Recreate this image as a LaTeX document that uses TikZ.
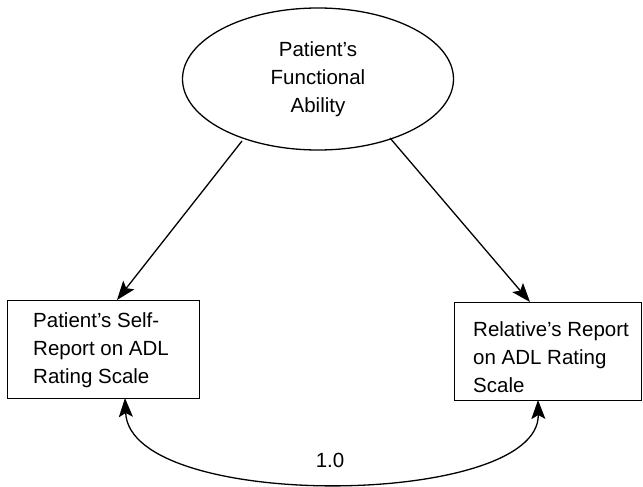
\documentclass[tikz,border=0pt]{standalone}
\usepackage{fontspec}
\setmainfont{Liberation Sans}
\usetikzlibrary{shapes.geometric,arrows.meta}
\begin{document}
\begin{tikzpicture}[x=1pt,y=-1pt,
  lbl/.style={font=\fontsize{20.5}{28}\selectfont,inner sep=0pt},
  box/.style={draw,line width=1.3pt,inner sep=0pt,anchor=north west},
  arr/.style={line width=1.3pt,-{Stealth[length=19pt,width=14pt,inset=4pt]}}]
\useasboundingbox (0,0) rectangle (643,487);
\node[draw,ellipse,line width=1.3pt,minimum width=271,minimum height=142,inner sep=0pt] (fa) at (318,79) {};
\node[lbl,align=center,anchor=base] (fat) at (318,112) {Patient’s\\Functional\\Ability};
\node[box,minimum width=192,minimum height=98] (L) at (7,300) {};
\node[lbl,align=left,anchor=base west] (lt) at (33,383) {Patient’s Self-\\Report on ADL\\Rating Scale};
\node[box,minimum width=187,minimum height=98] (R) at (454,302) {};
\node[lbl,align=left,anchor=base west] (rt) at (473,392) {Relative’s Report\\on ADL Rating\\Scale};
\coordinate (s1) at (242,141);
\coordinate (s2) at (390,138);
\coordinate (t1) at (117,300);
\coordinate (t2) at (530,302);
\draw[arr] (s1) -- (t1);
\draw[arr] (s2) -- (t2);
\coordinate (b1) at (125,398);
\coordinate (b2) at (538,400);
\draw[line width=1.3pt,{Stealth[length=19pt,width=14pt,inset=4pt]}-{Stealth[length=19pt,width=14pt,inset=4pt]}] (b1) .. controls (130,512) and (540,508) .. (b2);
\node[lbl,anchor=base] (v) at (330,467) {1.0};
\end{tikzpicture}
\end{document}
